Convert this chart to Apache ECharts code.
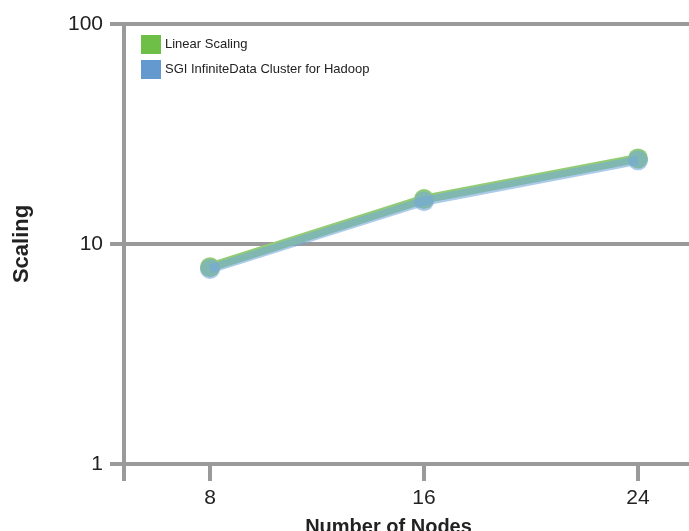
<!DOCTYPE html>
<html>
<head>
<meta charset="utf-8">
<script src="https://cdn.jsdelivr.net/npm/echarts@6/dist/echarts.min.js"></script>
<style>
html,body{margin:0;padding:0;background:#fff;}
#chart{width:689px;height:531px;}
</style>
</head>
<body>
<div id="chart"></div>
<script>
var nodes = [8, 16, 24];
var linearScaling = [7.85, 16.0, 24.5];
var sgiCluster = [7.7, 15.65, 24.0];
var yTicks = [1, 10, 100];
var seriesNames = ['Linear Scaling', 'SGI InfiniteData Cluster for Hadoop'];

var xMin = 4.785, xMax = 25.907;
var grey = '#9a9a9a';
var font = '"Liberation Sans", Arial, sans-serif';

function pairs(vals) { return nodes.map(function (n, i) { return [n, vals[i]]; }); }

var chart = echarts.init(document.getElementById('chart'));
chart.setOption({
  animation: false,
  textStyle: { fontFamily: font },
  grid: { left: 124, top: 24, right: 0, bottom: 67, containLabel: false, outerBoundsMode: 'none' },
  legend: {
    orient: 'vertical', left: 136, top: 30, itemWidth: 20, itemHeight: 19, itemGap: 6,
    icon: 'rect',
    textStyle: { fontSize: 13, color: '#222', fontFamily: font, padding: [0, 0, 0, -1] },
    data: [
      { name: seriesNames[0], itemStyle: { color: '#6dbf47', opacity: 1 } },
      { name: seriesNames[1], itemStyle: { color: '#6399cf', opacity: 1 } }
    ]
  },
  xAxis: {
    type: 'value', min: xMin, max: xMax,
    name: 'Number of Nodes', nameLocation: 'middle', nameGap: 53,
    nameTextStyle: { fontSize: 20, fontWeight: 'bold', color: '#222', fontFamily: font, padding: [0, 36, 0, 0] },
    axisLine: { show: true, lineStyle: { color: grey, width: 4 } },
    axisTick: { show: true, length: 17, lineStyle: { color: grey, width: 4 }, customValues: [xMin, 8, 16, 24] },
    axisLabel: { show: true, fontSize: 21, color: '#222', margin: 24, customValues: nodes },
    splitLine: { show: false }
  },
  yAxis: {
    type: 'log', logBase: 10, min: 1, max: 100,
    name: 'Scaling', nameLocation: 'middle', nameGap: 91, nameRotate: 90,
    nameTextStyle: { fontSize: 22, fontWeight: 'bold', color: '#222', fontFamily: font },
    axisLine: { show: true, lineStyle: { color: grey, width: 4 } },
    axisTick: { show: true, length: 14, lineStyle: { color: grey, width: 4 } },
    axisLabel: { fontSize: 21, color: '#222', margin: 21 },
    splitLine: { show: true, lineStyle: { color: grey, width: 4 } }
  },
  series: [
    {
      name: seriesNames[0], type: 'line', data: pairs(linearScaling),
      symbol: 'circle', symbolSize: 20,
      lineStyle: { color: '#93cc76', width: 9, opacity: 1 },
      itemStyle: { color: '#93cc76', opacity: 1 },
      z: 3
    },
    {
      name: seriesNames[1], type: 'line', data: pairs(sgiCluster),
      symbol: 'circle', symbolSize: 20,
      lineStyle: { color: '#74a8d8', width: 9, opacity: 0.6 },
      itemStyle: { color: '#74a8d8', opacity: 0.6 },
      z: 4
    }
  ]
});
</script>
</body>
</html>
